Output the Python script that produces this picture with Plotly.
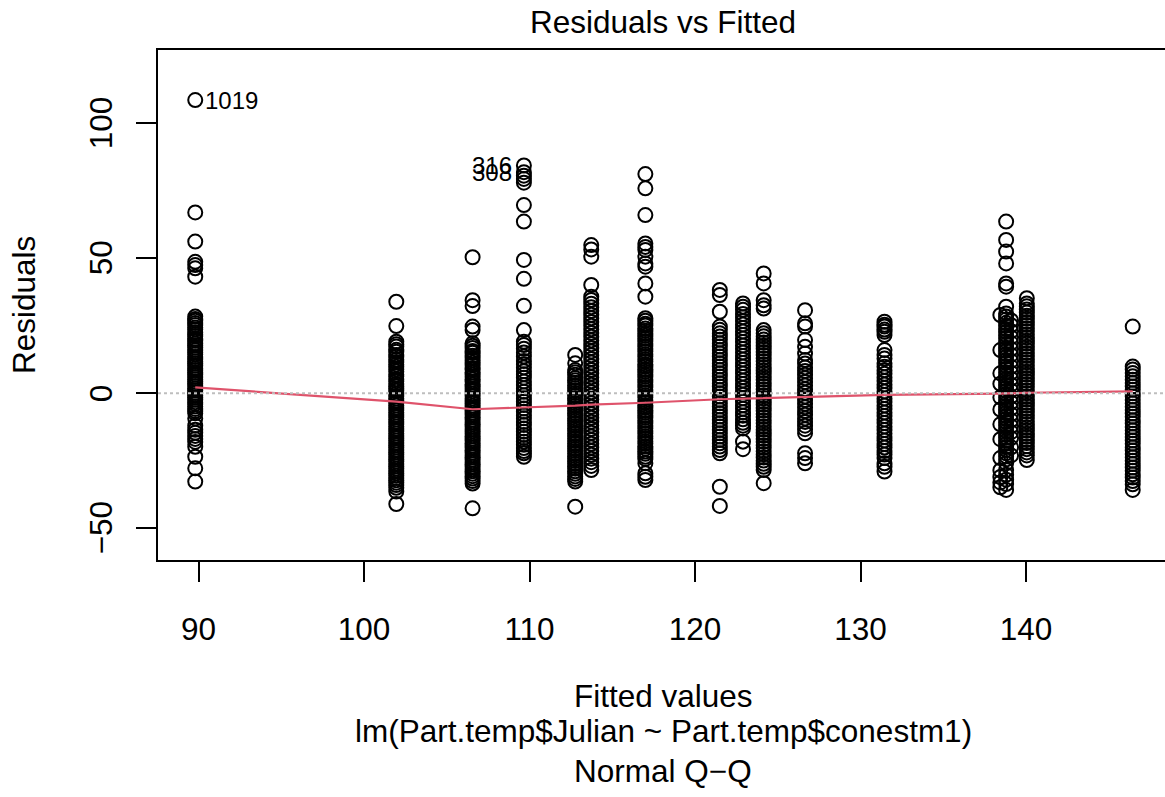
import plotly.graph_objects as go

# ---- data ----
fitted = [89.8, 101.95, 106.56, 109.66, 112.76, 113.73, 117.0, 121.5, 122.9,
          124.15, 126.65, 131.45, 138.45, 138.8, 139.1, 140.05, 146.45]

resA = [108.6, 67.0, 56.2, 48.7, 47.5, 46.3, 43.2,
        28.4, 27.5, 26.9, 26.0, 25.3, 24.4, 23.7, 22.6, 21.9, 21.2, 20.1, 19.5, 18.4, 17.8,
        16.9, 16.0, 15.2, 14.5, 13.4, 12.7, 11.9, 11.0, 10.2, 9.3, 8.6, 7.6, 6.9, 6.0, 5.2,
        4.3, 3.5, 2.7, 1.8, 1.0, 0.1, -0.7, -1.6, -2.4, -3.3, -4.0, -4.9, -5.8, -6.6, -7.4,
        -9.3, -12.0, -13.5, -14.6, -15.8, -16.9, -18.0, -19.8, -23.5, -27.8, -32.7]
resB = [33.9, 24.9, 19.1, 18.2, 17.3, 16.1, 15.4, 14.2, 13.5, 12.4, 11.6, 10.7, 9.8, 8.9,
        8.1, 7.0, 6.3, 5.2, 4.5, 3.4, 2.6, 1.7, 0.9, -0.2, -1.0, -1.9, -2.8, -3.6, -4.5,
        -5.4, -6.2, -7.1, -8.0, -8.8, -9.7, -10.6, -11.4, -12.3, -13.2, -14.0, -14.9, -15.8,
        -16.6, -17.5, -18.4, -19.2, -20.1, -21.0, -21.8, -22.7, -23.6, -24.4, -25.3, -26.2,
        -27.0, -27.9, -28.8, -29.6, -30.5, -31.4, -32.2, -33.1, -34.0, -35.0, -36.4, -41.0]
resC = [50.4, 34.5, 32.3, 24.7, 23.4, 18.5, 17.6, 16.8, 15.7, 15.0, 13.9, 13.1, 12.2, 11.3,
        10.5, 9.4, 8.7, 7.7, 6.9, 6.0, 5.1, 4.3, 3.3, 2.5, 1.6, 0.8, -0.2, -1.0, -1.9, -2.8,
        -3.6, -4.6, -5.4, -6.3, -7.2, -8.0, -8.9, -9.8, -10.7, -11.5, -12.4, -13.3, -14.1,
        -15.0, -15.9, -16.8, -17.6, -18.5, -19.4, -20.2, -21.1, -22.0, -22.9, -23.7, -24.6,
        -25.5, -26.3, -27.2, -28.1, -28.9, -29.8, -30.7, -31.6, -32.5, -33.4, -42.6]
resD = [84.4, 81.9, 80.6, 79.4, 78.0, 69.7, 63.6, 49.4, 42.4, 32.4, 23.4, 19.1, 17.9, 16.5,
        15.1, 13.6, 12.0, 10.8, 9.6, 8.2, 7.1, 5.8, 4.4, 3.1, 1.9, 0.6, -0.7, -1.8, -3.1,
        -4.3, -5.6, -6.8, -8.1, -9.2, -10.6, -11.7, -13.0, -14.2, -15.4, -16.6, -17.9, -19.1,
        -20.3, -21.4, -22.2, -23.5]
resE = [14.2, 11.1, 8.6, 7.8, 6.9, 5.7, 4.8, 3.9, 2.9, 2.0, 1.1, 0.1, -0.9, -1.8, -2.7, -3.7,
        -4.6, -5.5, -6.5, -7.4, -8.3, -9.3, -10.2, -11.1, -12.1, -13.0, -13.9, -14.9, -15.8,
        -16.7, -17.7, -18.6, -19.5, -20.5, -21.4, -22.3, -23.3, -24.2, -25.1, -26.1, -27.0,
        -27.9, -28.9, -29.8, -30.8, -31.7, -32.7, -42.0]
resF = [54.9, 53.3, 50.6, 40.1, 35.8, 34.6, 33.2, 31.9, 30.5, 29.1, 27.8, 26.4, 25.0, 23.7,
        22.3, 20.9, 19.6, 18.2, 16.8, 15.5, 14.1, 12.7, 11.4, 10.0, 8.6, 7.3, 5.9, 4.5, 3.2,
        1.8, 0.4, -0.9, -2.3, -3.7, -5.0, -6.4, -7.8, -9.1, -10.5, -11.9, -13.2, -14.6, -16.0,
        -17.3, -18.7, -20.1, -21.4, -22.8, -24.2, -25.5, -26.9, -28.4]
resG = [81.2, 75.9, 66.0, 55.5, 54.2, 53.1, 50.6, 48.1, 46.9, 40.7, 35.8, 27.8, 26.9, 25.8,
        25.1, 24.0, 23.2, 22.1, 21.3, 20.2, 19.4, 18.3, 17.5, 16.4, 15.6, 14.5, 13.7, 12.6,
        11.8, 10.7, 9.9, 8.8, 8.0, 6.9, 6.1, 5.0, 4.2, 3.1, 2.3, 1.2, 0.4, -0.7, -1.5, -2.6,
        -3.4, -4.5, -5.3, -6.4, -7.2, -8.3, -9.1, -10.2, -11.0, -12.1, -12.9, -14.0, -14.8,
        -15.9, -16.7, -17.8, -18.6, -19.7, -20.5, -21.6, -22.4, -23.5, -24.3, -25.9, -29.6,
        -30.9, -32.1]
resH = [38.3, 36.4, 30.2, 24.7, 23.5, 22.2, 21.0, 19.8, 18.5, 17.3, 16.0, 14.8, 13.6, 12.3,
        11.1, 9.9, 8.6, 7.4, 6.2, 4.9, 3.7, 2.5, 1.2, 0.0, -1.2, -2.5, -3.7, -4.9, -6.2, -7.4,
        -8.6, -9.9, -11.1, -12.3, -13.6, -14.8, -16.0, -17.3, -18.5, -19.7, -21.0, -22.2,
        -34.6, -41.7]
resI = [33.3, 32.1, 30.9, 29.4, 28.2, 26.8, 25.5, 24.2, 22.9, 21.6, 20.3, 19.0, 17.7, 16.4,
        15.1, 13.8, 12.5, 11.2, 9.9, 8.6, 7.3, 6.0, 4.7, 3.4, 2.1, 0.8, -0.5, -1.8, -3.1,
        -4.4, -5.7, -7.0, -8.3, -9.6, -10.9, -12.0, -13.0, -17.9, -20.7]
resJ = [44.4, 40.7, 34.5, 32.6, 31.4, 23.4, 22.2, 21.1, 19.9, 18.8, 17.6, 16.5, 15.3, 14.2,
        13.0, 11.9, 10.7, 9.6, 8.4, 7.3, 6.1, 5.0, 3.8, 2.7, 1.5, 0.4, -0.8, -1.9, -3.1, -4.2,
        -5.4, -6.5, -7.7, -8.8, -10.0, -11.1, -12.3, -13.4, -14.6, -15.7, -16.9, -18.0, -19.2,
        -20.3, -21.5, -22.6, -23.8, -24.9, -26.1, -27.2, -28.4, -33.3]
resK = [30.8, 25.9, 24.7, 19.7, 17.2, 14.7, 12.3, 11.0, 9.6, 8.3, 6.9, 5.6, 4.2, 2.9, 1.5, 0.2,
        -1.2, -2.5, -3.9, -5.2, -6.6, -7.9, -9.3, -10.6, -12.0, -13.3, -14.8, -22.2, -24.0,
        -25.9]
resL = [26.5, 25.4, 24.7, 23.6, 22.8, 21.6, 16.0, 14.2, 12.9, 11.1, 9.8, 8.5, 7.2, 5.9, 4.6,
        3.3, 2.0, 0.7, -0.6, -1.9, -3.2, -4.5, -5.8, -7.1, -8.4, -9.7, -11.0, -12.3, -13.6,
        -14.9, -16.2, -17.5, -18.8, -20.1, -21.4, -22.7, -24.0, -25.9, -27.2, -29.0]
resMa = [29.0, 16.0, 7.4, 3.5, -1.5, -6.0, -11.5, -17.0, -24.0, -28.5, -31.0, -33.0, -34.8]
resMb = [63.6, 56.8, 52.5, 48.1, 40.7, 39.5, 32.1, 29.6, 28.4, 27.3, 26.1, 25.0, 23.8, 22.7,
         21.5, 20.4, 19.2, 18.1, 16.9, 15.8, 14.6, 13.5, 12.3, 11.2, 10.0, 8.9, 7.7, 6.6, 5.4,
         4.3, 3.1, 2.0, 0.8, -0.3, -1.5, -2.6, -3.8, -4.9, -6.1, -7.2, -8.4, -9.5, -10.7,
         -11.8, -13.0, -14.1, -15.3, -16.4, -17.6, -18.7, -19.9, -21.0, -22.2, -23.3, -24.5,
         -25.9, -28.4, -30.2, -32.0, -33.6, -35.8]
resMc = [27.0, 25.2, 23.0, 20.8, 18.6, 16.4, 14.2, 12.0, 9.8, 7.6, 5.4, 3.2, 1.0, -1.2, -3.4,
         -5.6, -7.8, -10.0, -12.2, -14.4, -16.6, -20.0, -23.0]
resN = [35.2, 33.3, 32.2, 31.0, 29.9, 28.7, 27.6, 26.4, 25.3, 24.1, 23.0, 21.8, 20.7, 19.5,
        18.4, 17.2, 16.1, 14.9, 13.8, 12.6, 11.5, 10.3, 9.2, 8.0, 6.9, 5.7, 4.6, 3.4, 2.3, 1.1,
        0.0, -1.2, -2.3, -3.5, -4.6, -5.8, -6.9, -8.1, -9.2, -10.4, -11.5, -12.7, -13.8, -15.0,
        -16.1, -17.3, -18.4, -19.6, -20.7, -21.9, -23.0, -24.7]
resO = [24.7, 9.9, 8.8, 7.5, 6.3, 5.0, 3.8, 2.5, 1.3, 0.0, -1.2, -2.5, -3.7, -5.0, -6.2, -7.5,
        -8.7, -10.0, -11.2, -12.5, -13.7, -15.0, -16.2, -17.5, -18.7, -20.0, -21.2, -22.5,
        -23.7, -25.0, -26.2, -27.5, -28.7, -30.0, -31.2, -32.5, -33.7, -35.8]

residuals = [resA, resB, resC, resD, resE, resF, resG, resH, resI, resJ, resK, resL,
             resMa, resMb, resMc, resN, resO]

smooth_y = [2.2, -3.1, -5.9, -5.3, -4.6, -4.2, -3.5, -2.2, -2.0, -1.6, -1.4, -0.6, -0.1,
            0.0, 0.0, 0.2, 0.7]

x_ticks = [90, 100, 110, 120, 130, 140]
y_ticks = [-50, 0, 50, 100]
y_ticklabels = ["\u221250", "0", "50", "100"]

id_labels = ["1019", "316", "308"]

# ---- build ----
xs, ys = [], []
for fv, rl in zip(fitted, residuals):
    xs.extend([fv] * len(rl))
    ys.extend(rl)

FONT = "Liberation Sans, Arial, Helvetica, sans-serif"
FS = 31.5

fig = go.Figure()
fig.add_trace(go.Scatter(
    x=xs, y=ys, mode="markers",
    marker=dict(symbol="circle-open", size=14, color="black",
                line=dict(width=2, color="black")),
    hoverinfo="skip", showlegend=False))
fig.add_trace(go.Scatter(
    x=fitted, y=smooth_y, mode="lines",
    line=dict(color="#DF536B", width=2.2), hoverinfo="skip", showlegend=False))

fig.add_shape(type="line", xref="paper", x0=0, x1=1, yref="y", y0=0, y1=0,
              line=dict(color="#BEBEBE", width=2, dash="dot"), layer="above")

# id labels
fig.add_annotation(x=fitted[0], y=resA[0], text=id_labels[0], showarrow=False,
                   xanchor="left", yanchor="middle", xshift=8,
                   font=dict(family=FONT, size=24, color="black"))
fig.add_annotation(x=fitted[3], y=resD[0], text=id_labels[1], showarrow=False,
                   xanchor="right", yanchor="middle", xshift=-10,
                   font=dict(family=FONT, size=24, color="black"))
fig.add_annotation(x=fitted[3], y=resD[1], text=id_labels[2], showarrow=False,
                   xanchor="right", yanchor="middle", xshift=-10,
                   font=dict(family=FONT, size=24, color="black"))

# y tick labels (rotated, parallel to the axis as in R)
for v, lab in zip(y_ticks, y_ticklabels):
    fig.add_annotation(x=-0.0566, xref="paper", y=v, yref="y", text=lab, showarrow=False,
                       xanchor="center", yanchor="middle", textangle=-90,
                       font=dict(family=FONT, size=FS, color="black"))

# texts
def txt(t, x, y, angle=0, size=FS):
    fig.add_annotation(text=t, xref="paper", yref="paper", x=x, y=y, showarrow=False,
                       xanchor="center", yanchor="middle", textangle=angle,
                       font=dict(family=FONT, size=size, color="black"))

txt("Residuals vs Fitted", 0.5015, 1.0549)
txt("Fitted values", 0.5015, -0.2667)
txt("lm(Part.temp$Julian ~ Part.temp$conestm1)", 0.5015, -0.3353)
txt("Normal Q\u2212Q", 0.5015, -0.4137)
txt("Residuals", -0.1331, 0.5, -90)

fig.update_layout(
    width=1165, height=797,
    margin=dict(l=158, r=0, t=50, b=237, pad=0),
    paper_bgcolor="white", plot_bgcolor="white",
    font=dict(family=FONT, size=FS, color="black"),
    xaxis=dict(range=[87.55, 148.40], tickvals=x_ticks, ticks="outside", ticklen=20,
               tickwidth=2, tickcolor="black", showline=True, linecolor="black",
               linewidth=2, mirror=True, showgrid=False, zeroline=False,
               ticklabelstandoff=20, tickfont=dict(family=FONT, size=FS, color="black")),
    yaxis=dict(range=[-61.74, 127.15], tickvals=y_ticks, showticklabels=False,
               ticks="outside", ticklen=20, tickwidth=2, tickcolor="black", showline=True,
               linecolor="black", linewidth=2, mirror=False, showgrid=False, zeroline=False),
)

fig.write_html("out.html")
